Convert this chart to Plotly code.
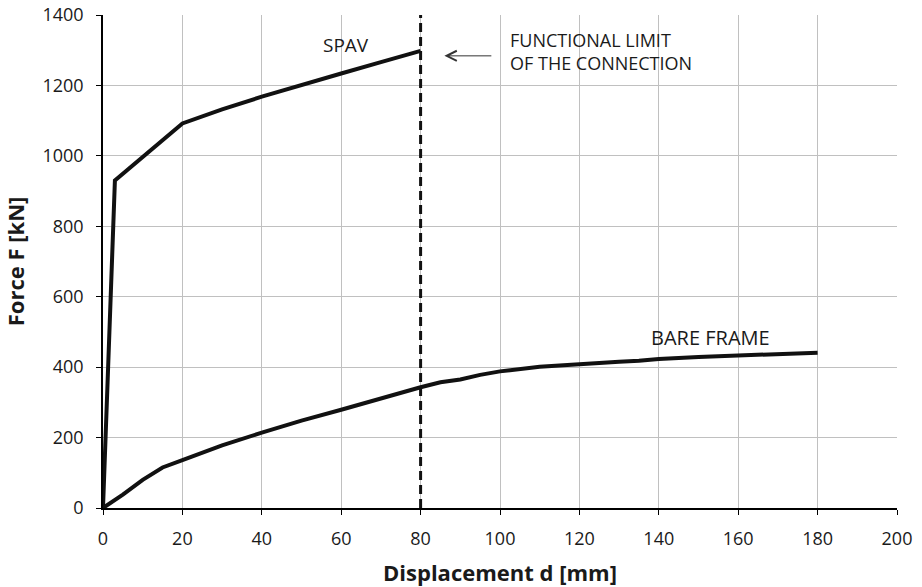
import plotly.graph_objects as go

spav_x = [0, 3, 20, 30, 40, 50, 60, 70, 80]
spav_y = [0, 930, 1092, 1132, 1168, 1202, 1234, 1266, 1298]

bare_x = [0, 5, 10, 15, 20, 30, 40, 50, 60, 70, 80, 85, 90, 95, 100, 110, 120, 130, 135, 140, 150, 160, 170, 175, 180]
bare_y = [0, 38, 80, 115, 136, 178, 214, 248, 279, 312, 343, 357, 365, 378, 388, 401, 409, 415, 418, 423, 429, 433, 437, 437, 441]

limit_x = [80, 80]
limit_y = [0, 1400]

x_ticks = [0, 20, 40, 60, 80, 100, 120, 140, 160, 180, 200]
y_ticks = [0, 200, 400, 600, 800, 1000, 1200, 1400]

FONT = "Open Sans"
TXT = "#1a1a1a"

fig = go.Figure()
fig.add_trace(go.Scatter(x=spav_x, y=spav_y, mode="lines",
                         line=dict(color="#111111", width=4), showlegend=False))
fig.add_trace(go.Scatter(x=bare_x, y=bare_y, mode="lines",
                         line=dict(color="#111111", width=4), showlegend=False))
fig.add_trace(go.Scatter(x=limit_x, y=limit_y, mode="lines",
                         line=dict(color="#111111", width=3, dash="9px,5px"), showlegend=False))

fig.add_annotation(x=61.2, y=1315, text="SPAV", showarrow=False,
                   font=dict(family=FONT, size=19, color=TXT))
fig.add_annotation(x=152.9, y=483, text="BARE FRAME", showarrow=False,
                   font=dict(family=FONT, size=20, color=TXT))
fig.add_annotation(x=102, y=1295, text="FUNCTIONAL LIMIT<br>OF THE CONNECTION",
                   showarrow=False, xanchor="left", align="left",
                   font=dict(family=FONT, size=18, color=TXT))
fig.add_annotation(x=86, y=1284, ax=98.2, ay=1284, xref="x", yref="y", axref="x", ayref="y",
                   showarrow=True, arrowhead=5, arrowsize=2, arrowwidth=1, arrowcolor="#333", text="")

fig.update_xaxes(range=[0, 200], tickvals=x_ticks, ticks="outside", ticklen=5,
                 tickcolor="#000", showline=True, linecolor="#000", linewidth=2,
                 showgrid=True, gridcolor="#c0c0c0", gridwidth=1, zeroline=False,
                 ticklabelstandoff=8, automargin=False,
                 tickfont=dict(family=FONT, size=18, color=TXT),
                 title=dict(text="<b>Displacement d [mm]</b>", font=dict(family=FONT, size=22, color=TXT), standoff=17))
fig.update_yaxes(range=[0, 1400], tickvals=y_ticks, ticks="outside", ticklen=5,
                 tickcolor="#000", showline=True, linecolor="#000", linewidth=1.5,
                 showgrid=True, gridcolor="#c0c0c0", gridwidth=1, zeroline=False,
                 ticklabelstandoff=9, automargin=False,
                 tickfont=dict(family=FONT, size=18, color=TXT),
                 title=dict(text="<b>Force F [kN]</b>", font=dict(family=FONT, size=22, color=TXT), standoff=12))

fig.update_layout(width=922, height=587, margin=dict(l=103, r=25, t=15, b=79),
                  plot_bgcolor="white", paper_bgcolor="white")

fig.write_html("out.html")
